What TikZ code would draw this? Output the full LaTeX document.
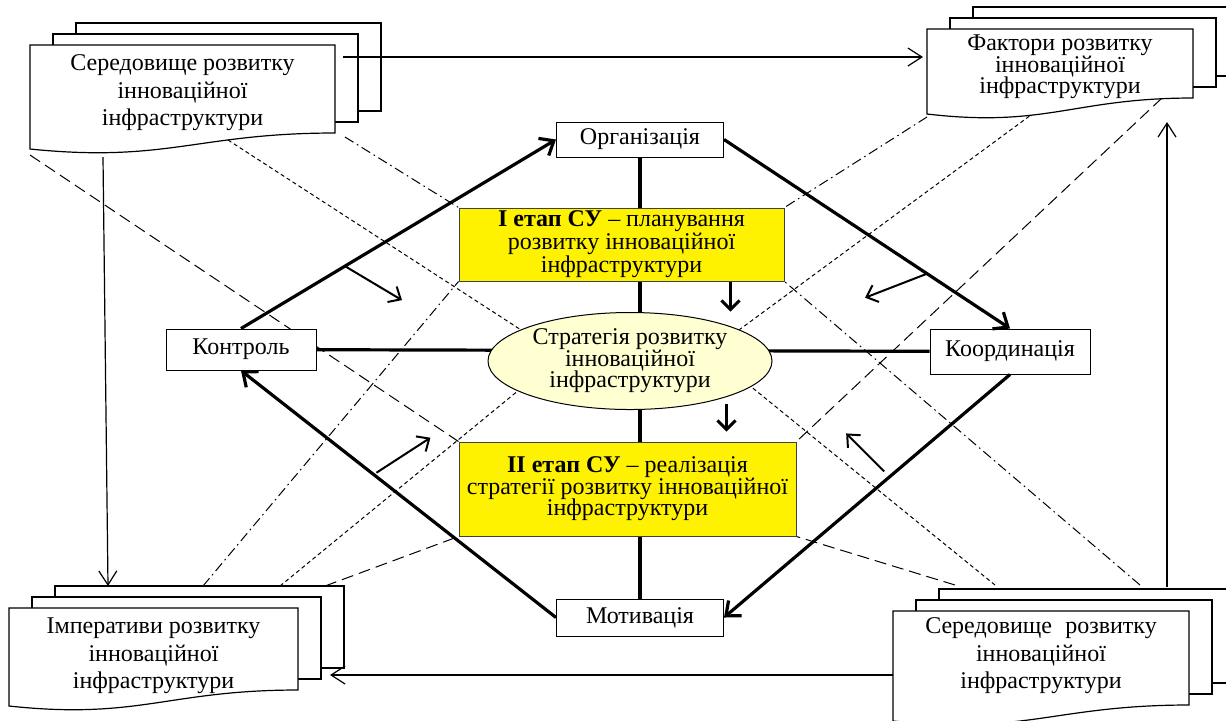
\documentclass[tikz,border=0pt]{standalone}
\usepackage{fontspec}
\setmainfont{Liberation Serif}
\usetikzlibrary{arrows.meta,shapes.geometric}
\pgfdeclarelayer{bg}
\pgfsetlayers{bg,main}

% stack of three sheets: left, top, right, bottom (right corner) of the front sheet
\newcommand{\docstack}[4]{%
  \draw[sheet] (#1+46,#2-22) rectangle (#3+46,#4-22);
  \draw[sheet] (#1+23,#2-11) rectangle (#3+23,#4-11);
  \draw[sheet] (#1,#2) -- (#3,#2) -- (#3,#4)
    .. controls ({#3-0.45*(#3-#1)},#4) and ({#1+0.45*(#3-#1)},#4+30) .. (#1,#4+16) -- cycle;
}
\newcommand{\txt}[1]{\fontsize{12pt}{#1}\selectfont\lineskiplimit=-10pt}

\begin{document}
\begin{tikzpicture}[x=0.5pt,y=-0.5pt,
    every node/.style={font=\txt{10.75pt}, align=center, inner sep=0pt},
    sheet/.style={draw, fill=white, line width=0.6pt},
    doctext/.style={font=\txt{13.75pt}},
    func/.style={draw, fill=white, line width=0.5pt},
    stage/.style={draw=black!75, fill=yellow, line width=0.5pt},
    link/.style={line width=1.6pt},
    flow/.style={line width=1.6pt, -{Straight Barb[length=6pt,width=10pt]}},
    drop/.style={line width=1.5pt, -{Straight Barb[length=4.5pt,width=9pt]}},
    hint/.style={line width=1pt, -{Straight Barb[length=5pt,width=9pt]}},
    feed/.style={line width=0.6pt, -{Straight Barb[length=7pt,width=9pt]}},
    ldash/.style={line width=0.5pt, dash pattern=on 6pt off 3pt},
    sdash/.style={line width=0.5pt, dash pattern=on 2pt off 1.5pt},
    ddash/.style={line width=0.5pt, dash pattern=on 5pt off 2pt on 0.8pt off 2pt}]
  \useasboundingbox (0,0) rectangle (1226,720);

  % document stacks
  \docstack{30}{45}{335}{133}
  \docstack{927}{29}{1193}{98}
  \docstack{9}{608}{298}{690}
  \docstack{893}{611}{1189}{705}

  \draw (182.5,93) node[doctext](env1){Середовище розвитку\\інноваційної\\інфраструктури};
  \draw (1060,67) node(fac){Фактори розвитку\\інноваційної\\інфраструктури};
  \draw (153.5,656) node[doctext](imp){Імперативи розвитку\\інноваційної\\інфраструктури};
  \draw (1041,656) node[doctext](env2){Середовище\hspace{.3em} розвитку\\інноваційної\\інфраструктури};

  % functions and stages
  \draw (640,139.5) node[func,minimum width=83.5pt,minimum height=17.5pt](org){Організація};
  \draw (241,349.5) node[func,minimum width=75pt,minimum height=20.5pt](kon){Контроль};
  \draw (1010,351.5) node[func,minimum width=80pt,minimum height=22.5pt](koord){Координація};
  \draw (640,617.5) node[func,minimum width=83.5pt,minimum height=18.5pt](mot){Мотивація};
  \draw (621.5,244.5) node[stage,minimum width=162.5pt,minimum height=36.5pt,
    font=\txt{11.5pt}](st1){\textbf{I етап СУ} – планування\\розвитку інноваційної\\інфраструктури};
  \draw (627.5,489) node[stage,minimum width=168.5pt,minimum height=47pt](st2){\textbf{II етап СУ} – реалізація\\стратегії розвитку інноваційної\\інфраструктури};
  \draw (630,361) node[ellipse,draw,line width=0.5pt,fill={rgb,255:red,255;green,255;blue,210},
    minimum width=142pt,minimum height=48.5pt](str){Стратегія розвитку\\інноваційної\\інфраструктури};

  % ends on the sheets
  \coordinate (env1-a) at (30,155);
  \coordinate (env1-b) at (228,140);
  \coordinate (env1-c) at (345,137);
  \coordinate (env1-d) at (343,57);
  \coordinate (env1-e) at (103,157);
  \coordinate (fac-a) at (927,117);
  \coordinate (fac-b) at (1035,112);
  \coordinate (fac-c) at (1162,98);
  \coordinate (fac-d) at (923,57);
  \coordinate (fac-e) at (1167,122);
  \coordinate (imp-a) at (203,586);
  \coordinate (imp-b) at (280,586);
  \coordinate (imp-c) at (325,586);
  \coordinate (imp-d) at (108,586);
  \coordinate (imp-e) at (330,675);
  \coordinate (env2-a) at (955,585);
  \coordinate (env2-b) at (995,585);
  \coordinate (env2-c) at (1140,585);
  \coordinate (env2-d) at (1167,587);
  \coordinate (env2-e) at (893,675);

  \begin{pgfonlayer}{bg}
    \draw[link] (org) -- (mot);
    \draw[link] (kon) -- (koord);
    \draw[ldash] (env1-a) -- (st2.north west);
    \draw[sdash] (env1-b) -- (str.164);
    \draw[ddash] (env1-c) -- (st1.north west);
    \draw[ddash] (fac-a) -- (st1.north east);
    \draw[sdash] (fac-b) -- (str.16);
    \draw[ldash] (fac-c) -- (st2.north east);
    \draw[ddash] (imp-a) -- (st1.south west);
    \draw[sdash] (imp-b) -- (str.195);
    \draw[ldash] (imp-c) -- (st2.south west);
    \draw[ldash] (env2-a) -- (st2.south east);
    \draw[sdash] (env2-b) -- (str.348);
    \draw[ddash] (env2-c) -- (st1.south east);
  \end{pgfonlayer}

  % cycle of functions
  \draw[flow] (kon.north) -- (org.west);
  \draw[flow] (org.east) -- (koord.north);
  \draw[flow] (koord.south) -- (mot.east);
  \draw[flow] (mot.west) -- (kon.south);
  \path (kon.north) -- coordinate[pos=.33](h1) (org.west)
        (org.east) -- coordinate[pos=.71](h2) (koord.north)
        (koord.south) -- coordinate[pos=.44](h3) (mot.east)
        (mot.west) -- coordinate[pos=.57](h4) (kon.south);
  \draw[hint] (h1) -- ++(57,34);
  \draw[hint] (h2) -- ++(-62,24);
  \draw[hint] (h3) ++(0,-10) -- ++(-38,-38);
  \draw[hint] (h4) ++(0,-4) -- ++(54,-35);
  \draw[drop] ([xshift=-27pt]st1.south east) -- ++(0,30);
  \draw[drop] ([xshift=-35pt,yshift=19pt]st2.north east) -- ++(0,28);

  % links between the sheets
  \draw[feed] (env1-d) -- (fac-d);
  \draw[feed] (env1-e) -- (imp-d);
  \draw[feed] (env2-e) -- (imp-e);
  \draw[feed] (env2-d) -- (fac-e);
\end{tikzpicture}
\end{document}
